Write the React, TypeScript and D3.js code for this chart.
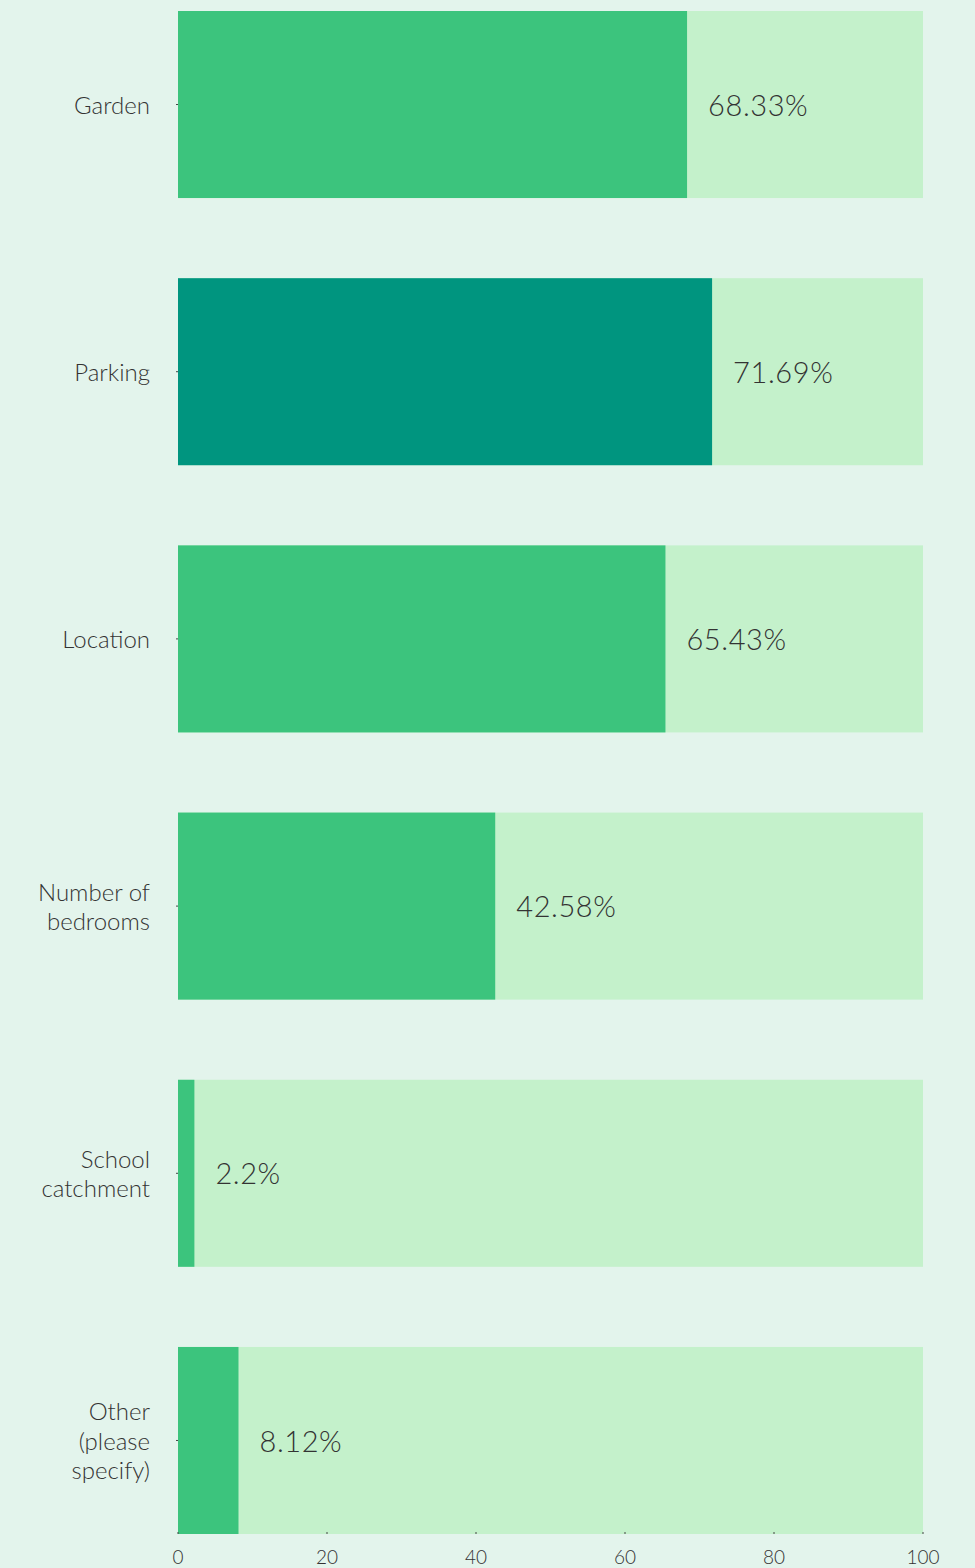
import React, { useEffect, useRef } from 'react';
import * as d3 from 'd3';

const categories = ['Garden', 'Parking', 'Location', 'Number of bedrooms', 'School catchment', 'Other (please specify)'];
const labelLines = [['Garden'], ['Parking'], ['Location'], ['Number of', 'bedrooms'], ['School', 'catchment'], ['Other', '(please', 'specify)']];
const values = [68.33, 71.69, 65.43, 42.58, 2.2, 8.12];
const highlighted = 'Parking';
const xTicks = [0, 20, 40, 60, 80, 100];

export default function App() {
  const ref = useRef<SVGSVGElement>(null);

  useEffect(() => {
    const svg = d3.select(ref.current);
    svg.selectAll('*').remove();

    const width = 975;
    const height = 1568;
    const margin = { top: 11, right: 52, bottom: 34, left: 178 };
    const font = 'Lato, "Open Sans", sans-serif';

    svg.append('rect').attr('width', width).attr('height', height).attr('fill', '#e3f4ec');

    const x = d3.scaleLinear().domain([0, 100]).range([margin.left, width - margin.right]);
    const y = d3.scaleBand<string>()
      .domain(categories)
      .range([margin.top, height - margin.bottom])
      .paddingInner(0.3)
      .paddingOuter(0);

    const g = svg.append('g');

    // full-width track behind each bar
    g.selectAll('rect.track')
      .data(categories)
      .enter()
      .append('rect')
      .attr('class', 'track')
      .attr('x', x(0))
      .attr('y', d => y(d)!)
      .attr('width', x(100) - x(0))
      .attr('height', y.bandwidth())
      .attr('fill', '#c4f1cb');

    g.selectAll('rect.bar')
      .data(values)
      .enter()
      .append('rect')
      .attr('class', 'bar')
      .attr('x', x(0))
      .attr('y', (d, i) => y(categories[i])!)
      .attr('width', d => x(d) - x(0))
      .attr('height', y.bandwidth())
      .attr('fill', (d, i) => categories[i] === highlighted ? '#00957f' : '#3cc47d');

    g.selectAll('text.value')
      .data(values)
      .enter()
      .append('text')
      .attr('class', 'value')
      .attr('x', d => x(d) + 21)
      .attr('y', (d, i) => y(categories[i])! + y.bandwidth() / 2 + 1)
      .attr('dy', '0.35em')
      .attr('fill', '#333')
      .style('font-family', font)
      .style('font-size', '29px')
      .style('font-weight', 300)
      .style('letter-spacing', '0.6px')
      .text(d => `${d}%`);

    // y axis labels
    const yAxis = svg.append('g').attr('transform', `translate(${margin.left},0)`);
    yAxis.selectAll('line')
      .data(categories)
      .enter()
      .append('line')
      .attr('x1', -2)
      .attr('x2', 0)
      .attr('y1', d => y(d)! + y.bandwidth() / 2)
      .attr('y2', d => y(d)! + y.bandwidth() / 2)
      .attr('stroke', '#444');

    const lineH = 29.5;
    yAxis.selectAll('text')
      .data(labelLines)
      .enter()
      .append('text')
      .attr('text-anchor', 'end')
      .attr('fill', '#333')
      .style('font-family', font)
      .style('font-size', '24px')
      .style('font-weight', 300)
      .each(function (lines, i) {
        const cy = y(categories[i])! + y.bandwidth() / 2 + 1;
        const startY = cy - ((lines.length - 1) * lineH) / 2;
        lines.forEach((l, j) => {
          d3.select(this)
            .append('tspan')
            .attr('x', -28)
            .attr('y', startY + j * lineH)
            .attr('dy', '0.35em')
            .text(l);
        });
      });

    // x axis
    const xAxis = svg.append('g').attr('transform', `translate(0,${height - margin.bottom})`);
    xAxis.selectAll('line')
      .data(xTicks)
      .enter()
      .append('line')
      .attr('x1', d => x(d))
      .attr('x2', d => x(d))
      .attr('y1', -2)
      .attr('y2', 0)
      .attr('stroke', '#444');
    xAxis.selectAll('text')
      .data(xTicks)
      .enter()
      .append('text')
      .attr('x', d => x(d))
      .attr('y', 23)
      .attr('dy', '0.35em')
      .attr('text-anchor', 'middle')
      .attr('fill', '#333')
      .style('font-family', font)
      .style('font-size', '19px')
      .style('font-weight', 300)
      .text(d => d);
  }, []);

  return <svg ref={ref} width={975} height={1568} style={{ position: 'absolute', left: 0, top: 0 }} />;
}
